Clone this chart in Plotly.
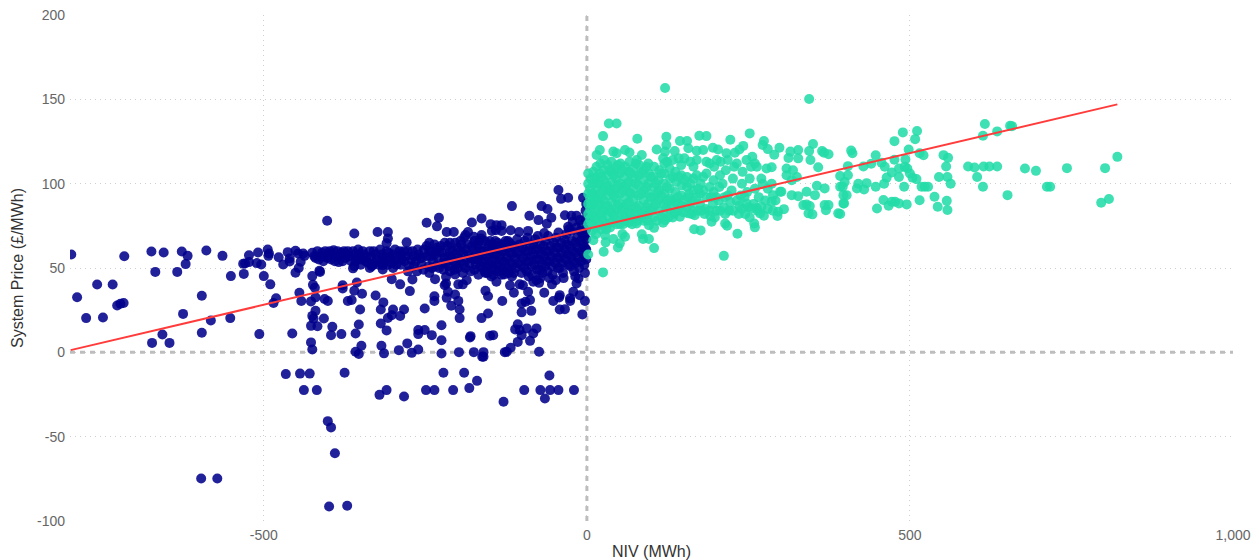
import plotly.graph_objects as go

x_ticks = [-500, 0, 500, 1000]
x_tick_labels = ["-500", "0", "500", "1,000"]
y_ticks = [-100, -50, 0, 50, 100, 150, 200]
y_tick_labels = ["-100", "-50", "0", "50", "100", "150", "200"]
trend_x = [-799, 821]
trend_y = [1.3, 147]

navy_far_left = [(-798,58),(-789,32.7),(-775,20.3),(-758,40.2),(-749,20.7),(-734,40.2),(-727,27.8),(-722,28.8),(-717,29.2),(-716,57),
(-674,59.8),(-673,5.6),(-657,10.6),(-655,59.2),(-646,5.6),(-627,59.8),(-618,57.2),(-621,52.3),(-634,47.7),(-668,47.7),(-625,22.8),
(-596,33.5),(-596,11.6),(-589,60.4),(-582,18.9),(-564,57.2),(-551,45.2),(-552,20.3),(-531,46.5),(-507,10.8),(-532,52.5),(-529,52.7),
(-523,57.6),(-523,53.5),(-509,59.2),(-511,52.9),(-504,52.1),(-500,45.2),(-490,40.3),(-481,32),(-485,29.2),(-494,61),(-492,58.6),(-493,57.2),
(-477,56.4),(-470,52.1),(-463,59.4),(-460,55.7),(-460,53.9),(-456,11.2),(-451,60.2),(-446,50),(-451,47.2),(-443,53.7),(-447,58.6),(-439,58.6),
(-437,57.2),(-445,35.3),(-442,30.4),(-427,30.2),(-420,32.6),(-425,45.2),(-424,40),(-421,38.3),(-414,48.3),(-420,24.6),(-425,21.6),(-423,20),
(-427,15.7),(-417,15.5),(-407,20.1),(-427,5.9),(-425,1.7),(-406,31.6),(-401,30.4),(-402,78)]

navy_upper = [(-360,70.5),(-324,71.3),(-308,71.3),(-308,67.5),(-310,64.7),(-279,65.2),(-248,76.8),(-229,79.8),(-232,74.7),(-217,71.3),(-206,71.3),
(-178,77),(-163,79.4),(-188,69.5),(-184,71.3),(-190,68.1),(-175,68.5),(-163,69.5),(-164,67.5),(-149,76),(-147,71.9),(-140,75.4),(-132,75.4),
(-141,72.4),(-132,71.9),(-118,72.4),(-105,71.3),(-91,72),(-116,86.7),(-89,81),(-75,78.4),(-70,86.7),(-61,85),(-55,79.8),(-62,76.2),(-66,70.7),
(-44,96.2),(-40,91),(-29,91.6),(-6,91.6),(-34,81.3),(-24,81),(-16,81),(-29,74.4),(-11,78.4),(-22,77.4)]

navy_lower = [(-413,47.7),(-362,49.8),(-360,51.1),(-333,51),(-316,49.1),(-316,51.7),(-302,43.4),(-289,40.3),(-270,43.2),(-274,36.3),(-378,39.8),(-378,37.9),
(-356,41.4),(-360,36.5),(-348,34.7),(-327,33.7),(-370,30.4),(-364,31),(-351,25.4),(-315,29.6),(-319,25.4),(-300,25.4),(-283,25.4),(-289,21.5),(-308,20.4),(-302,22),
(-394,15.1),(-396,10.2),(-380,10.8),(-358,11.2),(-353,16.5),(-319,17.1),(-310,13),(-251,26),(-236,33.3),(-236,30.4),(-235,43.4),(-244,47.1),(-218,44.8),(-218,40.8),
(-220,39.8),(-199,40.3),(-192,40.3),(-186,42.8),(-204,46.2),(-215,35.9),(-204,34.3),(-217,32.3),(-199,30.5),(-210,27.6),(-197,25.4),(-197,20.3),(-157,36.5),(-153,33.3),
(-131,30.4),(-153,23),(-163,20.3),(-157,47.1),(-140,41.8),(-145,45.8),(-128,46.2),(-119,39.7),(-113,35.3),(-104,40.3),(-99,39.8),(-91,35.9),(-88,31),(-101,29),(-101,23.7),
(-86,24.6),(-95,30),(-78,42.8),(-83,41.8),(-74,41.2),(-66,35.3),(-54,40.3),(-48,42.8),(-42,33.9),(-43,32.5),(-52,30.4),(-26,32),(-26,30.5),(-42,25.4),(-34,25.6),(-21,35.9),
(-16,40.8),(-13,43.8),(-11,33.9),(-3,30.4),(-7,22.5),(-107,16.7),(-111,13.6),(-104,13.2),(-93,14.2),(-101,10.2),(-83,11.2),(-78,14.2),(-88,6.8),(-107,6.2),(-118,2.7),(-74,0.3),
(-180,9.6),(-181,8.8),(-150,9.8),(-145,10.2),(-225,16.1),(-225,7.2),(-261,13.2),(-251,13.2),(-261,10.8),(-240,10.2),(-278,5.3),(-291,1.3),(-261,1.7),(-271,-0.3),(-318,3.9),
(-314,-0.6),(-349,3.9),(-358,0.3),(-353,-1),(-225,-0.7),(-198,0.1),(-175,0.1),(-160,0.1),(-160,-2.6),(-162,-2.6),(-127,0.1),(-124,0.3)]

navy_negative = [(-466,-12.9),(-444,-12.6),(-429,-12.6),(-438,-22.4),(-418,-22.4),(-375,-12.1),(-401,-40.8),(-396,-44.5),(-390,-59.8),(-399,-91.4),(-371,-91),
(-321,-25.2),(-310,-22.4),(-283,-26.2),(-249,-22.4),(-236,-22.4),(-207,-22.4),(-222,-12.1),(-190,-12.1),(-170,-16.9),(-182,-21.2),(-129,-29.3),(-97,-22.4),(-72,-22.4),
(-57,-22.4),(-44,-22.4),(-20,-22.4),(-65,-27.4),(-58,-13.7),(-597,-74.8),(-572,-74.8)]

navy_core_left = [(-425,59),(-420,56),(-417,60),(-412,57),(-408,54),(-405,60),(-400,58),(-396,55),(-392,60.5),(-388,57),(-384,53.5),(-380,59),(-374,56),(-370,60),(-365,54),
(-360,58),(-354,61),(-350,55),(-345,58),(-338,53),(-334,57),(-330,60),(-325,55),(-318,58),(-314,53),(-310,60),(-305,56),(-300,58),(-295,52),(-290,60),(-286,55),(-280,57),
(-275,51),(-270,60),(-265,54),(-260,58),(-256,52),(-252,61),(-422,57),(-415,55),(-410,59),(-402,56),(-394,58),(-386,60),(-378,54),(-372,58),(-362,60),(-356,56),(-347,60),
(-341,56),(-328,53),(-320,61),(-312,56),(-302,53),(-293,57),(-283,60),(-272,55),(-262,61),(-258,56),
(-406,57),(-398,60),(-390,54),(-382,57),(-376,60),(-368,57),(-358,54),(-352,58),(-343,54),(-336,60),(-332,52),(-327,58),(-322,52),(-316,56),(-308,52),(-307,59),(-298,54),
(-297,61),(-288,52),(-288,58),(-282,54),(-277,60),(-277,48),(-268,57),(-268,51),(-263,48),(-255,56),(-253,49),(-300,50),(-336,50),(-350,52)]

navy_core_a = [(-248,63),(-247,57),(-245,51),(-240,60),(-238,54),(-232,62),(-231,56),(-229,50),(-224,59),(-223,53),(-216,63),(-215,57),(-214,51),(-208,60),(-207,54),(-205,49),
(-200,62),(-199,56),(-192,59),(-191,52),(-184,64),(-183,58),(-182,53),(-176,61),(-175,55),(-174,49),(-168,63),(-167,57),(-165,51),(-160,60),(-159,54),(-158,48),(-152,64),
(-151,58),(-150,52),(-144,61),(-143,55),(-142,49),(-136,63),(-135,57),(-134,51),(-128,60),(-127,54),(-126,48),(-120,65),(-119,59),(-118,53),
(-244,60),(-236,58),(-228,60),(-220,56),(-212,60),(-204,58),(-196,54),(-188,61),(-180,56),(-172,52),(-172,58),(-164,60),(-163,54),(-156,57),(-155,51),(-148,60),(-147,54),
(-140,58),(-139,52),(-132,60),(-131,54),(-124,56),(-124,62),(-123,50),(-116,58),(-115,52),(-196,60),(-240,50),(-188,50),
(-242,57),(-234,51),(-226,63),(-218,53),(-210,56),(-202,52),(-194,64),(-186,55),(-178,63),(-170,55),(-166,66),(-161,50),(-154,62),(-154,47),(-146,64),(-146,50),(-138,65),
(-137,48),(-130,64),(-129,49),(-122,66),(-121,47),(-114,63),(-113,47),(-200,50),(-212,48),(-222,49),(-234,60),(-180,48),(-170,64),
(-244,65),(-236,64),(-220,65),(-212,65),(-204,65),(-196,66),(-174,66),(-158,66),(-150,66),(-142,66),(-126,66),(-108,67),(-192,47),(-168,46),(-148,45),(-132,46),(-116,45)]

navy_core_b = [(-112,62),(-111,56),(-110,50),(-104,64),(-103,58),(-102,52),(-101,47),(-96,66),(-95,60),(-94,54),(-93,48),(-88,63),(-87,57),(-86,51),(-85,46),(-80,67),(-79,61),
(-78,55),(-77,49),(-72,64),(-71,58),(-70,52),(-69,47),(-64,66),(-63,60),(-62,54),(-61,48),(-56,63),(-55,57),(-54,51),(-53,46),(-48,68),(-47,62),(-46,56),(-45,50),(-40,65),
(-39,59),(-38,53),(-37,47),(-32,70),(-31,64),(-30,58),(-29,52),(-24,72),(-23,66),(-22,60),(-21,54),(-20,48),(-16,74),(-15,68),(-14,62),(-13,56),(-12,50),(-8,76),(-7,70),
(-6,64),(-5,58),(-4,52),(-3,47),(-2,84),(-2,79),(-1,73),(-1,67),(-1,61),(-1,55),(-1,88),
(-108,59),(-107,53),(-99,62),(-98,56),(-97,50),(-91,60),(-90,54),(-83,64),(-82,58),(-81,52),(-75,61),(-74,55),(-73,49),(-67,63),(-66,57),(-65,51),(-59,60),(-58,54),(-51,65),
(-50,59),(-49,53),(-43,62),(-42,56),(-42,50),(-35,67),(-34,61),(-33,55),(-27,63),(-26,57),(-26,51),(-18,65),(-18,59),(-17,53),(-10,72),(-10,66),(-9,60),(-9,54),(-4,69),(-3,62),
(-92,68),(-76,69),(-60,69),(-44,71),(-28,73),(-90,45),(-72,44),(-58,44),(-36,44),(-18,45)]

green_core_a = [(2,76),(2,82),(2,88),(2,94),(2,100),(2,106),(5,79),(5,85),(5,91),(5,97),(6,103),(9,76),(9,82),(10,88),(10,94),(10,100),(10,107),(14,74),(14,79),(14,85),(15,91),(15,97),
(15,104),(15,110),(19,76),(20,82),(20,88),(20,94),(20,100),(20,106),(21,112),(25,78),(25,84),(26,90),(26,96),(26,102),(26,108),(27,114),(31,76),(32,81),(32,87),(32,93),(32,99),
(32,105),(32,111),(38,77),(38,83),(38,89),(38,95),(39,101),(38,107),(38,113),(44,79),(45,85),(45,91),(44,97),(45,103),(45,109),(51,76),(51,82),(51,88),(51,94),(52,100),(51,106),(52,112),
(58,80),(58,86),(59,92),(58,98),(58,104),(59,110),(65,77),(65,83),(65,89),(65,95),(65,101),(65,107),(66,113),(72,79),(72,85),(72,91),(72,97),(73,103),(72,109),(80,81),(80,87),(80,93),
(80,99),(80,105),(81,111),(88,78),(88,84),(88,90),(88,96),(88,102),(88,108),(95,82),(95,88),(96,94),(95,100),(96,106),(95,112),
(7,88),(7,94),(12,80),(12,91),(12,103),(17,87),(17,100),(23,92),(23,81),(23,104),(29,86),(29,98),(35,84),(35,96),(35,108),(42,81),(42,93),(42,105),(48,87),(48,99),(48,111),
(55,84),(55,96),(55,108),(62,88),(62,100),(68,82),(68,94),(68,106),(76,86),(76,100),(76,112),(84,82),(84,94),(84,106),(92,86),(92,98),(92,110),(99,92),(99,104),(99,84),
(8,72),(14,70),(22,73),(30,73),(36,74),(46,76),(56,76),(62,78),(70,76),(78,78),(86,80),(94,78)]

green_core_b = [(103,80),(103,86),(104,92),(104,98),(103,104),(104,110),(111,84),(111,90),(112,96),(111,102),(112,108),(119,82),(119,88),(120,94),(119,100),(120,106),(120,112),(128,85),(128,91),
(128,97),(129,103),(128,109),(137,83),(137,89),(137,95),(138,101),(137,107),(146,87),(146,93),(147,99),(146,105),(146,111),(155,86),(156,92),(155,98),(155,104),(164,84),(164,90),(165,96),(165,103),
(165,110),(175,88),(175,94),(176,100),(184,85),(185,92),(185,106),(185,113),(195,88),(196,95),(196,102),(197,110),(205,98),(206,105),(207,113),(212,86),(213,92),(220,84),(222,89),(224,96),
(226,103),(228,110),(235,82),(236,87),(238,93),(240,100),(241,107),(245,82),(248,95),(252,103),(254,110),(258,88),(260,97),(266,92),(272,100),(276,90),(280,97),
(107,88),(107,100),(115,93),(115,106),(123,86),(124,98),(124,113),(132,90),(133,104),(133,114),(141,92),(142,104),(142,115),(150,90),(151,102),(151,115),(160,88),(160,100),(160,113),(170,92),
(170,105),(170,114),(180,96),(180,104),(190,98),(190,112),(200,92),(201,114),(210,100),(215,108),(218,114),(232,90),(244,92),(250,86),(256,116),(200,84),(178,84),(232,112),(292,90),(264,84),
(108,78),(116,80),(126,80),(134,82),(142,84),(150,83),(162,82),(172,84),(182,82),(190,84),(198,80),(206,84),(214,82),(226,84),(240,85),(252,80),(280,85),(274,81),(288,84),(110,95),(125,90),(140,88),(158,94),(172,97),(192,92),(204,90),(218,93)]

green_upper = [(121,156.7),(344,150.2),(34,135.7),(46,135.7),(25,128.2),(78,126.6),(123,127.8),(174,128.4),(185,128.2),(222,126),(252,129.8),(274,125.3),(272,122.9),(298,121.3),(280,120.5),
(290,117.2),(350,123.5),(344,119.4),(346,114),(358,109.7),(327,120),(315,119),(312,115.2),(327,115),(364,119.3),(367,118.3),(374,117.4),(309,109),(319,108),(309,105),(325,104),(317,102),
(20,120),(15,117),(41,119),(46,118),(59,120),(66,118.5),(85,117),(77,114),(108,120.3),(121,119),(123,122.9),(118,115),(136,119.3),(144,125.3),(155,125.3),(157,121),(170,119.5),(180,120),
(195,121.3),(203,120.3),(216,118),(229,118.3),(242,122.4),(236,120.3),(247,114),(260,112),(263,110),(278,109),(286,109.7),(270,103),(286,100),(299,95.2)]

green_lower = [(389,82.4),(343,82.4),(349,81.8),(370,84.3),(374,87.3),(368,87.3),(397,88.3),(353,93.2),(356,98.8),(368,97.2),(392,98.2),(402,93.2),(340,95.2),(317,93.2),(327,92.6),(335,87.3),
(340,87.7),(345,86.7),(301,95.2),(288,93.2),(286,89.3),(305,84.9),(296,83.3),(295,80.9),(268,82.4),(263,85.4),(270,86.3),(255,85.4),(247,88.3),(259,76.4),(260,74.1),(233,70.3),(214,76.4),
(217,75),(212,57.2),(193,77.4),(191,80.9),(176,72.3),(166,73),(96,75.4),(104,73.8),(85,70),(87,67.2),(96,67.2),(104,61.8),(55,70.1),(59,68.5),(51,64.6),(48,62.2),(41,67.2),(28,69.5),(29,65.2),
(26,59.6),(10,66.5),(2,58),(25,47.4),(77,76.4),(59,78),(121,78.4),(118,76.8),(133,80),(144,80.4),(167,81.3),(157,82.4)]

green_right = [(409,119.7),(411,118),(489,130.4),(511,131.2),(508,126.4),(476,125.2),(498,120.3),(515,118),(521,116.8),(447,116.8),(404,110.4),(428,110.2),(440,111.8),(456,112.4),(461,110),
(476,114.2),(493,114.4),(392,104.5),(404,105),(399,101),(433,100.3),(420,100),(418,97.2),(429,96.6),(447,98.2),(460,100),(464,103.6),(472,106.6),(483,109),(492,110),(496,109),(500,106),
(504,103.6),(510,102.7),(483,104),(491,98.2),(552,116.9),(559,115.3),(556,110.2),(545,104),(558,104),(563,100),(518,98.2),(523,98.2),(528,98.2),(515,90.2),(538,92.2),(543,86.3),(557,89.8),
(558,84.4),(459,90.3),(449,85.3),(467,86.9),(472,89.3),(477,89.3),(483,88.3),(495,87.7),(397,93.2),(398,88.3),(392,82),(396,98.2),(590,110.2),(600,109.6),(614,110.2),(623,110.2),(635,110.2),
(604,104),(613,98.2),(651,93.2),(678,109),(695,107.6),(743,109.2),(712,98.2),(717,98.2),(802,109.2),(821,115.9),(796,88.7),(808,90.9),(616,135.4),(613,128.4),(635,131),(655,134.3),(658,134.1)]

navy_points = navy_far_left + navy_upper + navy_lower + navy_negative + navy_core_left + navy_core_a + navy_core_b
green_points = green_core_a + green_core_b + green_upper + green_lower + green_right

FONT = "Liberation Sans, Arial, sans-serif"
fig = go.Figure()
ref = dict(color="#BDBDBD", width=3, dash="5px,5px")
fig.add_trace(go.Scatter(x=[-800, 1000], y=[0, 0], mode="lines", line=ref, hoverinfo="skip"))
fig.add_trace(go.Scatter(x=[0, 0], y=[-100, 200], mode="lines", line=ref, hoverinfo="skip"))
fig.add_trace(go.Scatter(x=[p[0] for p in navy_points], y=[p[1] for p in navy_points], mode="markers", name="Short",
                         marker=dict(color="rgba(0,0,139,0.87)", size=10, line=dict(width=0))))
fig.add_trace(go.Scatter(x=[p[0] for p in green_points], y=[p[1] for p in green_points], mode="markers", name="Long",
                         marker=dict(color="rgba(34,219,168,0.87)", size=10, line=dict(width=0))))
fig.add_trace(go.Scatter(x=trend_x, y=trend_y, mode="lines", line=dict(color="#FF3B3B", width=2), name="Trend"))

axis_common = dict(showgrid=True, gridcolor="#CFCFCF", griddash="1px,4px", gridwidth=1, zeroline=False, showline=False,
                   ticks="", automargin=False, ticklabelstandoff=4, tickfont=dict(family=FONT, size=14, color="#666666"))
fig.update_layout(
    width=1259, height=560, margin=dict(l=70, r=26, t=15, b=39), autosize=False,
    paper_bgcolor="white", plot_bgcolor="white", showlegend=False, font=dict(family=FONT),
    xaxis=dict(range=[-800, 1000], tickvals=x_ticks, ticktext=x_tick_labels,
               title=dict(text="NIV (MWh)", font=dict(family=FONT, size=16, color="#333333")), **axis_common),
    yaxis=dict(range=[-100, 200], tickvals=y_ticks, ticktext=y_tick_labels,
               title=dict(text="System Price (£/MWh)", font=dict(family=FONT, size=16, color="#333333"), standoff=9), **axis_common),
)
fig.write_html("out.html", post_script="document.body.style.margin='0';", config={"displayModeBar": False})
